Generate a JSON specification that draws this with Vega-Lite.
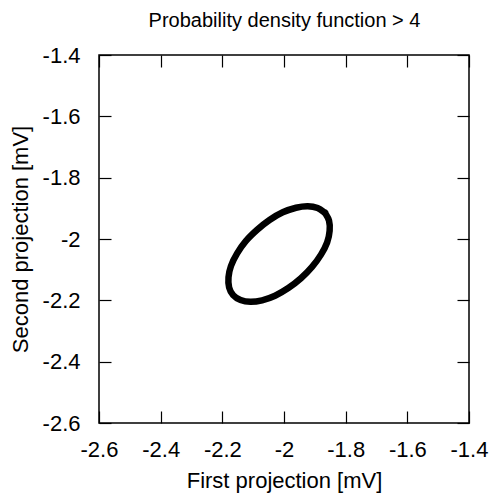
{
  "$schema": "https://vega.github.io/schema/vega-lite/v6.json",
  "width": 370,
  "height": 368,
  "autosize": {"type": "none"},
  "padding": {"left": 99, "top": 55, "right": 21, "bottom": 74},
  "background": "white",
  "data": {
    "values": [
      {"i": 0, "x": -1.867, "y": -1.915},
      {"i": 1, "x": -1.891, "y": -1.899},
      {"i": 2, "x": -1.923, "y": -1.893},
      {"i": 3, "x": -1.961, "y": -1.898},
      {"i": 4, "x": -2.004, "y": -1.913},
      {"i": 5, "x": -2.047, "y": -1.938},
      {"i": 6, "x": -2.087, "y": -1.970},
      {"i": 7, "x": -2.124, "y": -2.007},
      {"i": 8, "x": -2.152, "y": -2.047},
      {"i": 9, "x": -2.172, "y": -2.088},
      {"i": 10, "x": -2.180, "y": -2.125},
      {"i": 11, "x": -2.178, "y": -2.158},
      {"i": 12, "x": -2.165, "y": -2.183},
      {"i": 13, "x": -2.141, "y": -2.199},
      {"i": 14, "x": -2.109, "y": -2.205},
      {"i": 15, "x": -2.071, "y": -2.200},
      {"i": 16, "x": -2.029, "y": -2.185},
      {"i": 17, "x": -1.986, "y": -2.160},
      {"i": 18, "x": -1.945, "y": -2.128},
      {"i": 19, "x": -1.909, "y": -2.091},
      {"i": 20, "x": -1.880, "y": -2.051},
      {"i": 21, "x": -1.860, "y": -2.011},
      {"i": 22, "x": -1.852, "y": -1.973},
      {"i": 23, "x": -1.854, "y": -1.940},
      {"i": 24, "x": -1.867, "y": -1.915}
    ]
  },
  "layer": [
    {
      "mark": {"type": "line", "color": "black", "strokeWidth": 6.5, "interpolate": "cardinal-closed", "strokeJoin": "round"},
      "encoding": {
        "x": {
          "field": "x", "type": "quantitative",
          "scale": {"domain": [-2.6, -1.4], "nice": false, "zero": false},
          "axis": {
            "orient": "bottom",
            "values": [-2.6, -2.4, -2.2, -2, -1.8, -1.6, -1.4],
            "labelExpr": "'' + datum.value",
            "labelBaseline": "alphabetic",
            "labelPadding": 45,
            "labelFlush": false,
            "title": "First projection [mV]",
            "titleBaseline": "alphabetic",
            "titleY": 64
          }
        },
        "y": {
          "field": "y", "type": "quantitative",
          "scale": {"domain": [-2.6, -1.4], "nice": false, "zero": false},
          "axis": {
            "orient": "left",
            "values": [-2.6, -2.4, -2.2, -2, -1.8, -1.6, -1.4],
            "labelExpr": "'' + datum.value",
            "labelPadding": 31,
            "labelFlush": false,
            "title": "Second projection [mV]",
            "titleAngle": -90,
            "titleBaseline": "alphabetic",
            "titleAlign": "center",
            "titleX": -72,
            "titleY": 184
          }
        },
        "order": {"field": "i", "type": "quantitative"}
      }
    },
    {
      "mark": {"type": "line", "strokeOpacity": 0},
      "encoding": {
        "x": {
          "field": "x", "type": "quantitative",
          "axis": {
            "orient": "top",
            "values": [-2.6, -2.4, -2.2, -2, -1.8, -1.6, -1.4],
            "labels": false,
            "title": "Probability density function > 4",
            "titleFontSize": 20,
            "titleBaseline": "alphabetic",
            "titleAlign": "center",
            "titleX": 185,
            "titleY": -29
          }
        },
        "y": {
          "field": "y", "type": "quantitative",
          "axis": {"orient": "right", "values": [-2.6, -2.4, -2.2, -2, -1.8, -1.6, -1.4], "labels": false, "title": null}
        },
        "order": {"field": "i", "type": "quantitative"}
      }
    }
  ],
  "config": {
    "view": {"stroke": "black", "strokeWidth": 1.5},
    "axis": {
      "grid": false,
      "domain": false,
      "ticks": true,
      "tickColor": "black",
      "tickWidth": 1.2,
      "tickSize": -12,
      "labelFont": "Liberation Sans",
      "labelFontSize": 22,
      "labelColor": "black",
      "titleFont": "Liberation Sans",
      "titleFontSize": 22,
      "titleFontWeight": "normal",
      "titleColor": "black"
    }
  }
}
